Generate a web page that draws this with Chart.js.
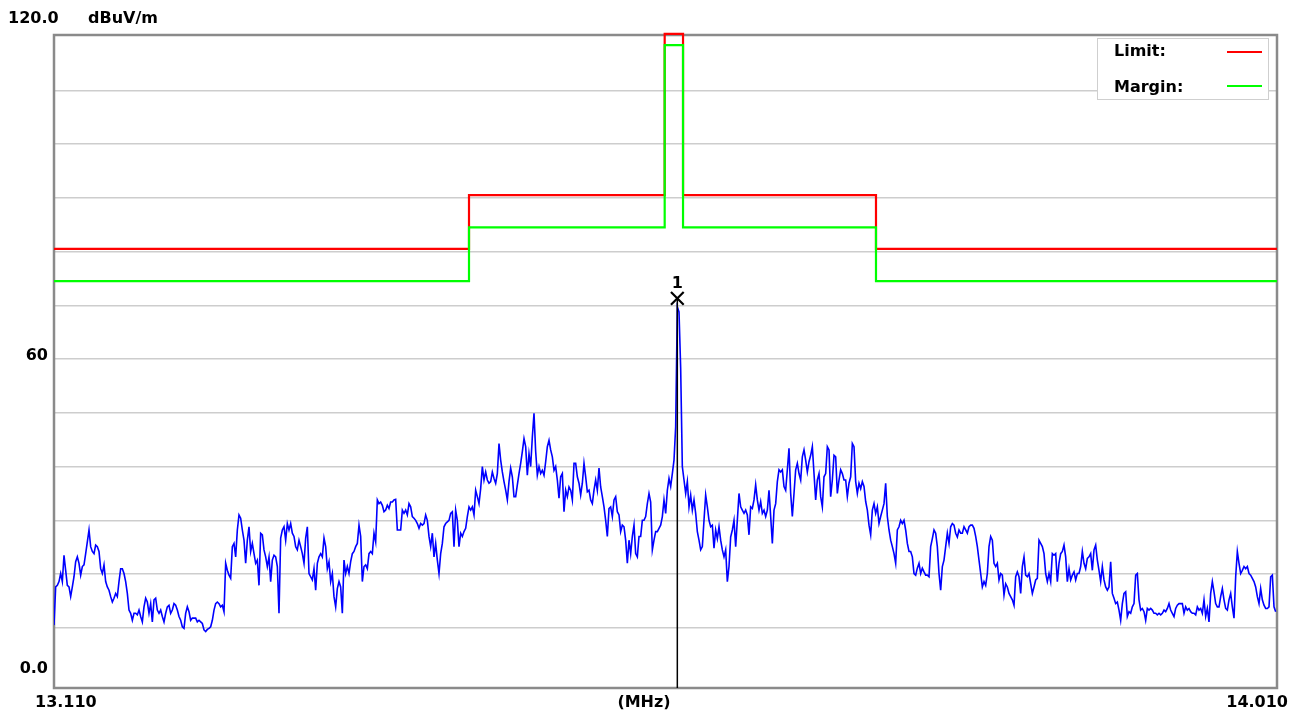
<!DOCTYPE html>
<html><head><meta charset="utf-8">
<script src="https://cdn.jsdelivr.net/npm/chart.js@4.4.1/dist/chart.umd.min.js"></script>
<style>html,body{margin:0;padding:0;background:#fff;overflow:hidden}canvas{display:block}</style>
</head><body>
<canvas id="c" width="1299" height="718"></canvas>
<script>
// ---- axis ranges ----
const freqStartMHz = 13.110;
const freqStopMHz = 14.010;
const levelMin = -1.2;
const levelMax = 120.3;
const gridLevels = [10, 20, 30, 40, 50, 60, 70, 80, 90, 100, 110];

// ---- tick / axis texts ----
const yTopLabel = '120.0';
const yMidLabel = '60';
const yMidValue = 60;
const yBottomLabel = '0.0';
const yUnitLabel = 'dBuV/m';
const xStartLabel = '13.110';
const xStopLabel = '14.010';
const xUnitLabel = '(MHz)';

// ---- limit / margin lines (edges in MHz, levels in dBuV/m) ----
const limitEdgesMHz = [13.110, 13.4154, 13.5594, 13.5729, 13.7149, 14.010];
const limitLevels   = [80.5, 90.5, 120.5, 90.5, 80.5];
const marginLevels  = [74.5, 84.5, 118.4, 84.5, 74.5];
const legendNames = ['Limit:', 'Margin:'];

// ---- measured trace (dBuV/m), sweep grid ----
const traceStartMHz = 13.110;
const traceStepMHz = 0.0012265;
const traceLowBand = [10.5,
 17.6,17.9,18.6,20.1,18.6,23.5,20.7,17.9,17.6,15.8,17.6,19.5,22.3,23.2,22.0,19.8,21.4,21.7,
 23.8,26.0,28.2,25.1,24.2,23.8,25.4,25.1,24.2,21.0,20.1,21.7,18.6,17.6,17.0,15.8,14.8,15.5,16.4,15.8,
 18.6,21.0,21.0,20.1,18.6,16.4,13.3,12.7,11.4,12.7,12.7,12.4,13.3,12.1,11.1,13.9,15.5,14.8,12.7,14.5,
 11.1,15.2,15.5,13.3,12.7,13.3,12.1,11.1,12.7,13.9,14.2,12.7,13.3,14.5,14.2,13.3,12.1,11.4,10.2,9.9,
 12.7,13.9,13.0,11.4,11.8,11.8,11.8,11.1,11.4,11.1,10.8,9.6,9.3,9.7,9.9,10.2,11.4,13.3,14.5,14.8,
 14.5,13.9,14.2,13.0,22.0,20.7,19.8,19.2,25.1,25.7,23.2,28.2,31.0,30.4,28.2,26.3,22.0,26.3,28.8,24.2,
 25.7,23.8,22.0,22.6,17.9,27.6,27.3,24.5,23.2,21.4,23.2,18.6,22.6,23.5,23.2,21.4,12.7,26.7,28.2,28.8,
 26.3,29.4,28.2,29.4,27.6,27.0,25.1,24.5,26.3,25.1,23.8,22.0,26.7,28.8,20.1,19.5,18.9,21.0,17.0,22.0,
 23.2,23.8,23.2,26.7,25.1,21.0,22.3,18.6,20.1,15.8,13.9,17.3,18.6,17.6,12.7,22.6,20.1,21.4,20.1,22.3,
 23.8,24.2,25.1,25.7,29.1,27.0];
const traceRise = [
 18.6,21.4,21.7,21.0,23.8,24.2,23.8,27.6,26.0,33.8,33.1,33.4,32.8,31.6,31.9,32.8,32.2,
 33.4,33.4,33.8,33.9,28.2,28.2,28.2,31.9,31.3,31.9,31.0,33.1,32.5,30.7,30.4,30.0,29.4,28.5,29.4,29.1,
 29.4,31.0,30.0,27.0,25.1,27.6,23.2,25.7,22.6,20.1,23.8,25.7,28.8,29.4,29.7,30.0,31.3,31.6,25.1,31.9,
 30.0,25.1,27.6,27.0,27.9,28.5,30.7,32.5,31.9,32.5,31.0,35.6,34.4,33.1,35.9,40.0,37.5,39.0,37.5,36.9,
 37.2,39.0,37.8,36.9,38.7,44.3,41.2,39.0,37.2,35.6,33.8,37.2,39.7,38.1,34.4,34.4,36.6,38.7,40.6,42.8,
 45.2,43.7,38.4,42.4,40.0,45.5,49.9,42.8,38.4,40.0,38.7,39.3,38.4,40.9,43.7,44.9,43.1,41.8,39.3,40.0,
 37.5,34.1,38.1,38.7,31.6,35.6,34.4,36.2,35.6,33.8,40.6,40.6,38.1,36.9,34.7,36.9,40.6,38.1,35.3,35.6,
 33.8,33.1,35.6,37.5,35.6,39.7,36.2,34.4,32.5,30.0,27.0,32.2,32.5,30.7,33.8,34.4,31.6,31.0,27.9,29.1,
 28.8,26.3,22.0,26.3,23.8,27.0,29.1,23.8,23.2,27.0,27.0,30.0,30.0,30.7,33.1,35.0,33.4,24.5,26.3,27.9,
 27.9,28.5,29.1,30.7,33.8,31.3];
const traceCarrier = [
 35.6,37.8,36.3,38.7,41.2,47.4,69.7,68.8,58.3,40.0,37.5,35.0,37.2,32.5,34.7,31.9,33.8,
 31.3,27.9,26.3,24.5,25.1,30.0,34.7,32.5,30.0,28.8,29.1,24.8,28.2,26.6,28.8,26.3,24.5,23.2,24.5,18.6,
 21.4,26.9,28.2,30.0,25.1,30.0,35.0,32.5,31.9,31.3,31.9,31.0,27.3,32.5,32.2,33.8,36.6,33.8,31.9,33.5,
 31.3,31.9,30.7,31.9,35.6,30.7,25.7,31.9,33.1,37.2,39.4,39.0,39.4,36.3,35.6,39.4,43.4,35.0,30.7,35.0,
 39.4,40.6,38.7,37.5,41.8,43.1,41.2,39.0,40.9,42.1,43.7,38.7,33.8,37.5,38.7,34.4,32.5,38.1,38.7,43.7,
 43.1,34.4,37.5,42.1,41.8,35.0,37.5,39.4,38.7,37.5,37.5,34.4,36.9,38.1,44.3,43.7,37.2,35.0,36.9,35.9,
 37.2,36.3,33.5,31.9,29.1,27.3,31.9,33.1,31.3,32.5,29.4,30.7,31.9,33.1,36.9,30.7,28.2,26.3,25.1,23.8,
 22.0,28.2,28.8,30.0,29.4,30.0,28.2,25.7,24.2,24.2,23.2,20.1,19.8,21.1,22.0,20.1,21.1,20.4,19.8,19.8,
 19.5,25.1,26.6,28.2,27.6,25.1,20.1,17.0,21.4,22.6,25.1,27.6,25.7,28.8,29.4,29.1,27.6,26.9,28.2,27.6,
 27.6,28.8,28.2,27.6,28.8,29.1];
const traceHighBand = [
 29.1,28.5,27.0,25.1,22.6,20.1,17.6,18.6,17.9,20.1,25.1,27.0,26.3,22.0,21.4,22.0,18.9,
 20.1,19.8,16.1,18.2,17.6,16.4,15.8,15.2,14.2,19.5,20.4,19.5,16.4,21.4,23.2,19.8,19.5,20.1,18.2,16.4,
 17.6,18.9,19.2,26.3,25.7,25.1,23.8,20.1,18.6,20.1,18.6,23.8,23.5,23.8,18.6,22.0,23.8,24.2,25.4,23.2,
 18.6,21.0,18.9,19.8,20.4,18.9,20.1,20.1,21.4,24.2,22.0,21.0,22.9,23.2,23.8,20.7,24.5,25.4,22.6,20.7,
 18.6,21.4,18.9,17.6,17.0,17.6,22.3,16.4,15.5,14.5,14.8,13.3,11.4,14.5,16.4,16.7,12.1,13.0,12.7,13.9,
 14.5,19.8,20.1,15.2,13.3,13.6,13.0,11.4,13.6,13.3,13.6,13.3,12.7,12.7,12.4,12.7,12.4,12.7,13.3,13.0,
 13.6,14.5,13.3,12.7,12.1,13.6,14.2,14.5,14.5,14.5,12.7,13.9,13.3,13.6,13.0,12.7,12.7,12.4,13.9,13.3,
 13.6,12.7,15.2,12.1,13.6,11.1,16.4,18.6,16.7,14.5,13.9,13.9,15.8,17.3,15.2,13.6,13.3,15.2,16.4,13.9,
 11.8,19.5,24.2,22.0,20.1,20.7,21.4,21.0,21.4,20.1,19.8,19.2,18.6,17.6,15.8,14.5,17.3,15.2,14.2,13.6,
 13.6,13.9,19.5,19.8,13.9,13.0];

// ---- marker ----
const markerFreqMHz = 13.5687;
const markerLevel = 71.3;
const markerLabel = '1';

// ---- build datasets from the arrays ----
const traceLevels = traceLowBand.concat(traceRise, traceCarrier, traceHighBand);
const tracePoints = traceLevels.map((v, i) => ({ x: traceStartMHz + i * traceStepMHz, y: v }));
function stepPoints(edges, levels) {
  const pts = levels.map((v, i) => ({ x: edges[i], y: v }));
  pts.push({ x: edges[edges.length - 1], y: levels[levels.length - 1] });
  return pts;
}
const limitPoints = stepPoints(limitEdgesMHz, limitLevels);
const marginPoints = stepPoints(limitEdgesMHz, marginLevels);

const FONT = 'bold 16px "DejaVu Sans"';

const framePlugin = {
  id: 'frame',
  beforeDatasetsDraw(chart) {
    const { ctx, chartArea: a } = chart;
    ctx.save();
    ctx.strokeStyle = '#8a8a8a';
    ctx.lineWidth = 2.5;
    ctx.strokeRect(a.left, a.top, a.right - a.left, a.bottom - a.top);
    ctx.restore();
  }
};

const textPlugin = {
  id: 'texts',
  afterDraw(chart) {
    const { ctx, chartArea: a, scales } = chart;
    const ys = scales.y, xs = scales.x;
    ctx.save();
    ctx.font = FONT;
    ctx.fillStyle = '#000';
    ctx.textBaseline = 'middle';
    ctx.textAlign = 'left';
    ctx.fillText(yTopLabel, 8, a.top - 16);
    ctx.fillText(yUnitLabel, 88, a.top - 16);
    ctx.textAlign = 'right';
    ctx.fillText(yMidLabel, a.left - 6, ys.getPixelForValue(yMidValue) - 3);
    ctx.fillText(yBottomLabel, a.left - 6, a.bottom - 19);
    ctx.textAlign = 'left';
    ctx.fillText(xStartLabel, 35, a.bottom + 15);
    ctx.textAlign = 'right';
    ctx.fillText(xStopLabel, 1288, a.bottom + 15);
    ctx.textAlign = 'center';
    ctx.fillText(xUnitLabel, 644, a.bottom + 15);
    // marker label
    const mx = xs.getPixelForValue(markerFreqMHz);
    const my = ys.getPixelForValue(markerLevel);
    ctx.fillText(markerLabel, mx, my - 15);
    // legend box
    const lx = 1097.5, ly = 38.5, lw = 171, lh = 61;
    ctx.fillStyle = '#fff';
    ctx.fillRect(lx, ly, lw, lh);
    ctx.strokeStyle = '#cfcfcf';
    ctx.lineWidth = 1;
    ctx.strokeRect(lx, ly, lw, lh);
    ctx.fillStyle = '#000';
    ctx.textAlign = 'left';
    ctx.fillText(legendNames[0], 1114, 52);
    ctx.fillText(legendNames[1], 1114, 88);
    ctx.lineWidth = 2;
    ctx.strokeStyle = '#ff0000';
    ctx.beginPath(); ctx.moveTo(1227, 52); ctx.lineTo(1262, 52); ctx.stroke();
    ctx.strokeStyle = '#00ff00';
    ctx.beginPath(); ctx.moveTo(1227, 86); ctx.lineTo(1262, 86); ctx.stroke();
    ctx.restore();
  }
};

new Chart(document.getElementById('c'), {
  type: 'line',
  data: {
    datasets: [
      { label: 'Marker', data: [{ x: markerFreqMHz, y: levelMin }, { x: markerFreqMHz, y: markerLevel }],
        borderColor: '#000', borderWidth: 1.5, pointRadius: [0, 9], pointStyle: 'crossRot',
        pointBorderColor: '#000', pointBorderWidth: 2.2, order: 0, clip: false },
      { label: 'Trace', data: tracePoints, borderColor: '#0000ff', borderWidth: 1.6,
        pointRadius: 0, tension: 0, order: 1 },
      { label: 'Margin', data: marginPoints, borderColor: '#00ff00', borderWidth: 2.2,
        pointRadius: 0, stepped: 'before', order: 2, clip: false },
      { label: 'Limit', data: limitPoints, borderColor: '#ff0000', borderWidth: 2.2,
        pointRadius: 0, stepped: 'before', order: 3, clip: false }
    ]
  },
  options: {
    responsive: false,
    devicePixelRatio: 1,
    animation: false,
    parsing: false,
    layout: { padding: { left: 54, top: 35, right: 22, bottom: 30 } },
    plugins: { legend: { display: false }, tooltip: { enabled: false } },
    scales: {
      x: { type: 'linear', min: freqStartMHz, max: freqStopMHz, display: false },
      y: {
        type: 'linear', min: levelMin, max: levelMax,
        ticks: { display: false },
        grid: { color: '#cdcdcd', lineWidth: 1.4, drawTicks: false },
        border: { display: false },
        afterBuildTicks(s) { s.ticks = gridLevels.map(v => ({ value: v })); },
        afterFit(s) { s.width = 0; }
      }
    }
  },
  plugins: [framePlugin, textPlugin]
});
</script>
</body></html>
